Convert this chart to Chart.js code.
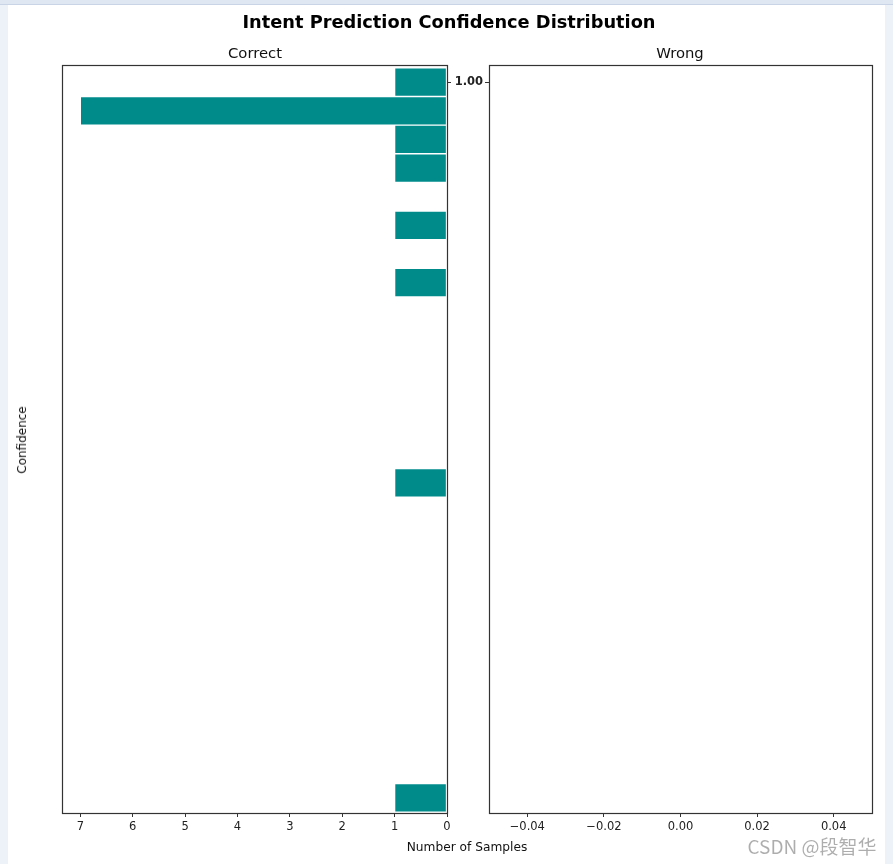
<!DOCTYPE html>
<html>
<head>
<meta charset="utf-8">
<script src="https://cdn.jsdelivr.net/npm/chart.js@4.4.1/dist/chart.umd.min.js"></script>
<style>
  html, body { margin: 0; padding: 0; background: #fff; }
  #wrap { position: relative; width: 893px; height: 864px; overflow: hidden; background: #fff; font-family: "DejaVu Sans", sans-serif; }
  #topbar { position: absolute; left: 0; top: 0; width: 893px; height: 5px; background: #dfe7f2; border-bottom: 1px solid #c9d5e6; box-sizing: border-box; }
  #leftbar { position: absolute; left: 0; top: 5px; width: 8px; height: 859px; background: #edf2f9; }
  #rightbar { position: absolute; left: 885px; top: 5px; width: 8px; height: 859px; background: #edf2f9; }
  canvas { position: absolute; left: 0; top: 0; }
  .txt { position: absolute; white-space: nowrap; color: #111; }
  #title { left: 449px; top: 21px; transform: translate(-50%, -50%); font-weight: bold; font-size: 17.8px; color: #000; }
  #tL { left: 255px; top: 52px; transform: translate(-50%, -50%); font-size: 14.8px; }
  #tR { left: 680px; top: 52px; transform: translate(-50%, -50%); font-size: 14.8px; }
  #xlab { left: 467px; top: 847px; transform: translate(-50%, -50%); font-size: 12.2px; }
  #ylab { left: 22px; top: 440px; transform: translate(-50%, -50%) rotate(-90deg); font-size: 12px; }
  #wm { left: 812px; top: 845px; transform: translate(-50%, -50%); font-size: 19px; color: rgba(0,0,0,0.32); font-family: "Noto Sans CJK SC", "DejaVu Sans", sans-serif; }
</style>
</head>
<body>
<div id="wrap">
  <div id="topbar"></div>
  <div id="leftbar"></div>
  <div id="rightbar"></div>
  <canvas id="cL" width="893" height="864"></canvas>
  <canvas id="cR" width="893" height="864"></canvas>
  <div class="txt" id="title">Intent Prediction Confidence Distribution</div>
  <div class="txt" id="tL">Correct</div>
  <div class="txt" id="tR">Wrong</div>
  <div class="txt" id="xlab">Number of Samples</div>
  <div class="txt" id="ylab">Confidence</div>
  <div class="txt" id="wm">CSDN @段智华</div>
</div>
<script>
// ---- data ----
const binCenters   = [1.00, 0.99, 0.98, 0.97, 0.95, 0.93, 0.86, 0.75];
const correctCounts = [1, 7, 1, 1, 1, 1, 1, 1];
const wrongCounts   = [];
const leftXTicks  = [0, 1, 2, 3, 4, 5, 6, 7];
const rightXTicks = [-0.04, -0.02, 0.00, 0.02, 0.04];
const yTickValues = [1.00];
const yMin = 0.7447, yMax = 1.006;

const barColor = '#008b8b';
const tickFont = { family: 'DejaVu Sans', size: 11.5 };
const tickColor = '#222';
const spineColor = '#333';

const framePlugin = {
  id: 'frame',
  afterDraw(chart) {
    const a = chart.chartArea, ctx = chart.ctx;
    ctx.save();
    ctx.strokeStyle = spineColor;
    ctx.lineWidth = 1.2;
    ctx.strokeRect(Math.round(a.left) + 0.5, Math.round(a.top) + 0.5, Math.round(a.right - a.left), Math.round(a.bottom - a.top));
    ctx.restore();
  }
};

function fmtSigned(v) {
  const s = Math.abs(v).toFixed(2);
  return v < -1e-9 ? '\u2212' + s : s;
}

// Left panel: Correct
new Chart(document.getElementById('cL'), {
  type: 'bar',
  data: {
    datasets: [{
      data: binCenters.map((c, i) => ({ x: correctCounts[i], y: c })),
      backgroundColor: barColor,
      borderColor: 'rgba(255,255,255,0.45)',
      borderWidth: 1,
      borderSkipped: false,
      barPercentage: 1,
      categoryPercentage: 1
    }]
  },
  options: {
    indexAxis: 'y',
    responsive: false,
    animation: false,
    devicePixelRatio: 1,
    layout: { padding: { left: 62, right: 446, top: 65, bottom: 21 } },
    plugins: { legend: { display: false }, tooltip: { enabled: false }, title: { display: false } },
    scales: {
      x: {
        type: 'linear', reverse: true, min: 0, max: 7.35,
        afterBuildTicks: s => { s.ticks = leftXTicks.map(v => ({ value: v })); },
        afterFit: s => { s.height = 30; },
        ticks: { font: tickFont, color: tickColor, padding: 3, maxRotation: 0, callback: v => String(v) },
        grid: { drawOnChartArea: false, drawTicks: true, tickLength: 4, tickColor: spineColor },
        border: { display: true, color: spineColor }
      },
      y: {
        type: 'linear', position: 'right', min: yMin, max: yMax, offset: false,
        afterBuildTicks: s => { s.ticks = yTickValues.map(v => ({ value: v })); },
        afterFit: s => { s.width = 0; },
        ticks: { display: false },
        grid: { offset: false, drawOnChartArea: false, drawTicks: true, tickLength: 4, tickColor: spineColor },
        border: { display: true, color: spineColor }
      }
    }
  },
  plugins: [framePlugin]
});

// Right panel: Wrong (empty)
new Chart(document.getElementById('cR'), {
  type: 'bar',
  data: {
    datasets: [{
      data: wrongCounts,
      backgroundColor: barColor
    }]
  },
  options: {
    indexAxis: 'y',
    responsive: false,
    animation: false,
    devicePixelRatio: 1,
    layout: { padding: { left: 454, right: 21, top: 65, bottom: 21 } },
    plugins: { legend: { display: false }, tooltip: { enabled: false }, title: { display: false } },
    scales: {
      x: {
        type: 'linear', min: -0.05, max: 0.05,
        afterBuildTicks: s => { s.ticks = rightXTicks.map(v => ({ value: v })); },
        afterFit: s => { s.height = 30; },
        ticks: { font: tickFont, color: tickColor, padding: 3, maxRotation: 0, callback: v => fmtSigned(v) },
        grid: { drawOnChartArea: false, drawTicks: true, tickLength: 4, tickColor: spineColor },
        border: { display: true, color: spineColor }
      },
      y: {
        type: 'linear', position: 'left', min: yMin, max: yMax, offset: false,
        afterBuildTicks: s => { s.ticks = yTickValues.map(v => ({ value: v })); },
        afterFit: s => { s.width = 35; },
        ticks: { font: { family: 'DejaVu Sans', size: 11.5, weight: 'bold' }, color: tickColor, padding: 2, callback: v => Number(v).toFixed(2) },
        grid: { offset: false, drawOnChartArea: false, drawTicks: true, tickLength: 4, tickColor: spineColor },
        border: { display: true, color: spineColor }
      }
    }
  },
  plugins: [framePlugin]
});
</script>
</body>
</html>
